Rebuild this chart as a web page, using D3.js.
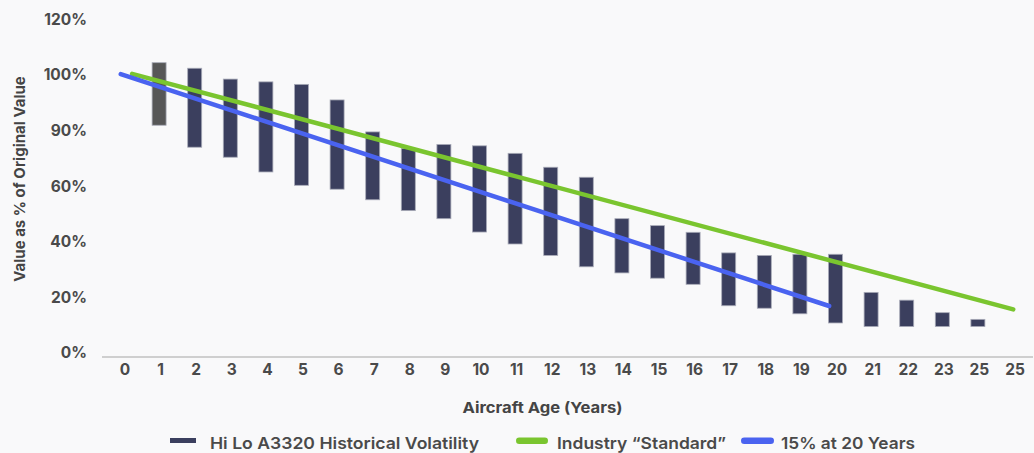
<!DOCTYPE html>
<html>
<head>
<meta charset="utf-8">
<script src="https://cdn.jsdelivr.net/npm/d3@7"></script>
<style>
  html, body { margin: 0; padding: 0; background: #f9f9fa; }
  svg { display: block; font-family: Inter, "Open Sans", sans-serif; }
</style>
</head>
<body>
<svg id="chart" width="1034" height="453"></svg>
<script>
// Aircraft age categories along the x axis
const ages = ["0","1","2","3","4","5","6","7","8","9","10","11","12","13","14","15","16","17","18","19","20","21","22","23","25","25"];

// Historical value range (hi / lo, % of original value) per age slot; null = no bar
const hiValues = [null,104.4,102.4,98.5,97.5,96.6,91.0,79.5,73.6,75.0,74.5,71.8,66.8,63.2,48.3,45.8,43.4,36.0,35.1,35.5,35.5,21.8,19.0,14.5,12.1,null];
const loValues = [null,81.9,74.0,70.4,65.1,60.3,58.9,55.1,51.2,48.3,43.5,39.2,35.1,31.0,28.8,26.9,24.7,17.0,16.1,14.1,10.8,9.5,9.5,9.5,9.5,null];

// Straight-line depreciation curves: [slot position, % of original value]
const industryLine = [[0.2,100.4],[24.95,15.7]];
const fifteenAt20Line = [[-0.12,100.3],[19.78,16.9]];

// Y axis ticks and the labels printed beside them
const yTickValues = [0,20,40,60,80,100,120];
const yTickLabels = ["0%","20%","40%","60%","90%","100%","120%"];

const svg = d3.select("#chart");

const x = d3.scaleBand()
  .domain(d3.range(ages.length))
  .range([107.2, 1032.8])
  .paddingInner(0.6)
  .paddingOuter(0.3);

// slot index -> centre pixel
const xc = d3.scaleLinear()
  .domain([0, ages.length - 1])
  .range([x(0) + x.bandwidth() / 2, x(ages.length - 1) + x.bandwidth() / 2]);

const y = d3.scaleLinear().domain([0, 120]).range([353, 19.3]);

// x axis baseline
svg.append("line")
  .attr("x1", 102).attr("x2", 1033)
  .attr("y1", y(0) + 4).attr("y2", y(0) + 4)
  .attr("stroke", "#cfcfcf").attr("stroke-width", 2);

// y axis labels
const yAxis = d3.axisLeft(y)
  .tickValues(yTickValues)
  .tickFormat((d, i) => yTickLabels[i])
  .tickSize(0)
  .tickPadding(0);
const gy = svg.append("g").attr("transform", "translate(87,0)").call(yAxis);
gy.select(".domain").remove();
gy.selectAll("text")
  .attr("fill", "#4a4a4a")
  .style("font-size", "15.5px")
  .style("font-weight", 700)
  .style("font-family", "Inter, sans-serif");

// x axis labels
const xAxis = d3.axisBottom(x)
  .tickFormat(i => ages[i])
  .tickSize(0)
  .tickPadding(0);
const gx = svg.append("g").attr("transform", "translate(0,366)").call(xAxis);
gx.select(".domain").remove();
gx.selectAll("text")
  .attr("fill", "#4a4a4a")
  .attr("dy", "0.6em")
  .style("font-size", "15.5px")
  .style("font-weight", 700)
  .style("font-family", "Inter, sans-serif");

// range bars
const barData = ages.map((a, i) => ({ i, hi: hiValues[i], lo: loValues[i] }))
  .filter(d => d.hi != null);
const barW = 14;
svg.append("g").selectAll("rect")
  .data(barData)
  .join("rect")
  .attr("x", d => xc(d.i) - barW / 2 - 1.5)
  .attr("width", barW)
  .attr("y", d => y(d.hi))
  .attr("height", d => y(d.lo) - y(d.hi))
  .attr("fill", d => d.i === 1 ? "#575757" : "#3b3f5e")
  .attr("stroke", "#a9abb8")
  .attr("stroke-width", 0.8);

// depreciation lines
const line = d3.line().x(d => xc(d[0])).y(d => y(d[1]));
svg.append("path")
  .attr("d", line(industryLine))
  .attr("fill", "none")
  .attr("stroke", "#7ac52f")
  .attr("stroke-width", 4.5)
  .attr("stroke-linecap", "round");
svg.append("path")
  .attr("d", line(fifteenAt20Line))
  .attr("fill", "none")
  .attr("stroke", "#4a63f0")
  .attr("stroke-width", 4.5)
  .attr("stroke-linecap", "round");

// axis titles
svg.append("text")
  .attr("x", 462.5).attr("y", 413)
  .attr("textLength", 160)
  .attr("lengthAdjust", "spacingAndGlyphs")
  .attr("fill", "#444")
  .style("font-size", "15px").style("font-weight", 700)
  .text("Aircraft Age (Years)");
svg.append("text")
  .attr("transform", "translate(25,179) rotate(-90)")
  .attr("text-anchor", "middle")
  .attr("fill", "#444")
  .style("font-size", "15px").style("font-weight", 700)
  .text("Value as % of Original Value");

// legend
const legendItems = [
  { label: "Hi Lo A3320 Historical Volatility", color: "#3b3f5e", shape: "rect", x: 170, w: 26, tx: 210, tw: 269 },
  { label: "Industry \u201cStandard\u201d", color: "#7ac52f", shape: "pill", x: 516, w: 32, tx: 557, tw: 169 },
  { label: "15% at 20 Years", color: "#4a63f0", shape: "pill", x: 741, w: 33, tx: 781, tw: 134 }
];
const lg = svg.append("g").selectAll("g").data(legendItems).join("g");
lg.append("rect")
  .attr("x", d => d.x)
  .attr("y", d => d.shape === "rect" ? 438 : 437.5)
  .attr("width", d => d.w)
  .attr("height", d => d.shape === "rect" ? 5 : 6.5)
  .attr("rx", d => d.shape === "rect" ? 0 : 3.25)
  .attr("fill", d => d.color);
lg.append("text")
  .attr("x", d => d.tx)
  .attr("y", 448.7)
  .attr("textLength", d => d.tw)
  .attr("lengthAdjust", "spacingAndGlyphs")
  .attr("fill", "#4a4a4a")
  .style("font-size", "16.5px").style("font-weight", 600)
  .text(d => d.label);
</script>
</body>
</html>
